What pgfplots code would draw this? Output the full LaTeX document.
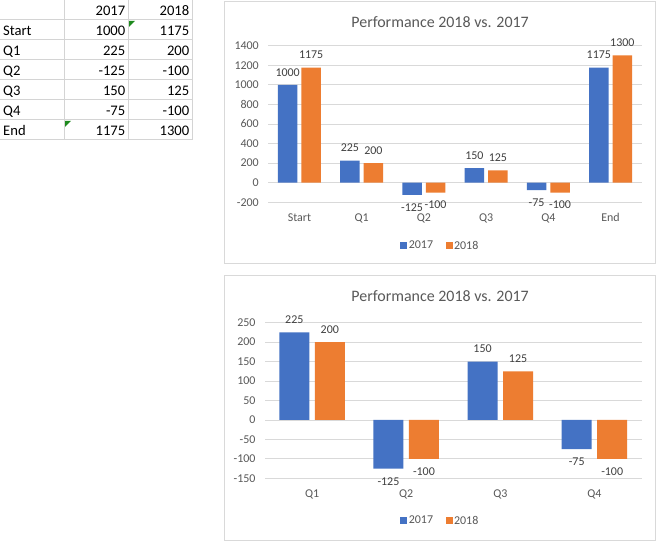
\documentclass[border=0pt]{standalone}
\usepackage{pgfplots}
\usepackage{pgfplotstable}
\pgfplotsset{compat=1.18}
\usepackage{fontspec}
\setmainfont{Carlito}

\definecolor{c17}{HTML}{4472C4}
\definecolor{c18}{HTML}{ED7D31}
\definecolor{gridc}{HTML}{D9D9D9}
\definecolor{txt}{HTML}{595959}
\definecolor{lbl}{HTML}{404040}
\definecolor{cellc}{HTML}{D4D4D4}
\definecolor{flag}{HTML}{1E8A1E}

\newcommand{\chartfont}{\fontsize{12}{14}\selectfont}

% data, one row per category
\pgfplotstableread{
cat y17 y18
0 1000 1175
1 225 200
2 -125 -100
3 150 125
4 -75 -100
5 1175 1300
}\full
\pgfplotstableread{
cat y17 y18
0 225 200
1 -125 -100
2 150 125
3 -75 -100
}\quart

\pgfplotsset{
  perf/.style={
    scale only axis, anchor=south west, clip=false,
    axis line style={draw=none}, major tick length=0,
    ymajorgrids, grid style={gridc, line width=0.75bp},
    tick label style={font=\chartfont, text=txt},
    /pgf/number format/assume math mode=true,
    /pgf/number format/1000 sep={},
    xticklabel style={yshift=-7.5bp},
    yticklabel style={xshift=-6bp},
    title={Performance 2018 vs. 2017},
    title style={font=\fontsize{16}{19}\selectfont, text=txt, anchor=center},
    legend columns=2,
    legend style={draw=none, fill=none, anchor=center, font=\chartfont, text=txt,
      nodes={inner xsep=1.5bp},
      /tikz/every even column/.append style={column sep=11bp}},
    nodes near coords, nodes near coords align=vertical,
    every node near coord/.append style={font=\chartfont, text=lbl, inner ysep=8.5bp},
  },
  sq/.style={legend image code/.code={\fill[##1] (0bp,-3.5bp) rectangle (7bp,3.5bp);}},
}

\begin{document}
\begin{tikzpicture}
\fill[white] (0bp,0bp) rectangle (657bp,541bp);
\path[use as bounding box] (0bp,0bp) rectangle (657bp,541bp);

% spreadsheet cells
\foreach \r in {1,...,7} {
  \pgfmathsetmacro\yy{541-20*\r+0.5}
  \draw[cellc, line width=0.75bp] (0bp,\yy bp) -- (192.5bp,\yy bp);
}
\foreach \c in {64.5,128.5,192.5}
  \draw[cellc, line width=0.75bp] (\c bp,541bp) -- (\c bp,400.5bp);
\fill[flag] (129bp,520bp) -- (135bp,520bp) -- (129bp,514bp) -- cycle;
\fill[flag] (65bp,420bp) -- (71bp,420bp) -- (65bp,414bp) -- cycle;
\begin{scope}[every node/.style={inner sep=0, font=\fontsize{14.67}{17}\selectfont}]
  \node[anchor=base east] at (125.5bp,525bp) {2017};
  \node[anchor=base east] at (189.5bp,525bp) {2018};
  \foreach \n/\a/\b [count=\i] in {Start/1000/1175, Q1/225/200, Q2/-125/-100,
      Q3/150/125, Q4/-75/-100, End/1175/1300} {
    \pgfmathsetmacro\yy{525-20*\i}
    \node[anchor=base west] at (3bp,\yy bp) {\n};
    \node[anchor=base east] at (125.5bp,\yy bp) {\a};
    \node[anchor=base east] at (189.5bp,\yy bp) {\b};
  }
\end{scope}

% chart frames
\draw[gridc, line width=1bp] (224.5bp,277bp) rectangle (655.5bp,539bp);
\draw[gridc, line width=1bp] (224.5bp,1bp) rectangle (655.5bp,265bp);

\begin{axis}[perf, at={(268.3bp,338.7bp)},
    width=373.4bp, height=156.6bp,
    xmin=-0.5, xmax=5.5, ymin=-200, ymax=1400,
    ytick={-200,0,...,1400},
    xtick={0,...,5}, xticklabels={Start,Q1,Q2,Q3,Q4,End},
    ybar=4bp, bar width=19.5bp,
    title style={at={(0.46,1.114)}},
    legend style={at={(0.46,-0.278)}}]
\addplot[fill=c17, draw=none, sq] table[x=cat, y=y17] {\full};
\addplot[fill=c18, draw=none, sq] table[x=cat, y=y18] {\full};
\legend{2017,2018}
\end{axis}

\begin{axis}[perf, at={(265bp,62.7bp)},
    width=376.5bp, height=155.6bp,
    xmin=-0.5, xmax=3.5, ymin=-150, ymax=250,
    ytick={-150,-100,...,250},
    xtick={0,...,3}, xticklabels={Q1,Q2,Q3,Q4},
    ybar=5.5bp, bar width=30bp,
    title style={at={(0.465,1.135)}},
    legend style={at={(0.465,-0.273)}}]
\addplot[fill=c17, draw=none, sq] table[x=cat, y=y17] {\quart};
\addplot[fill=c18, draw=none, sq] table[x=cat, y=y18] {\quart};
\legend{2017,2018}
\end{axis}
\end{tikzpicture}
\end{document}
